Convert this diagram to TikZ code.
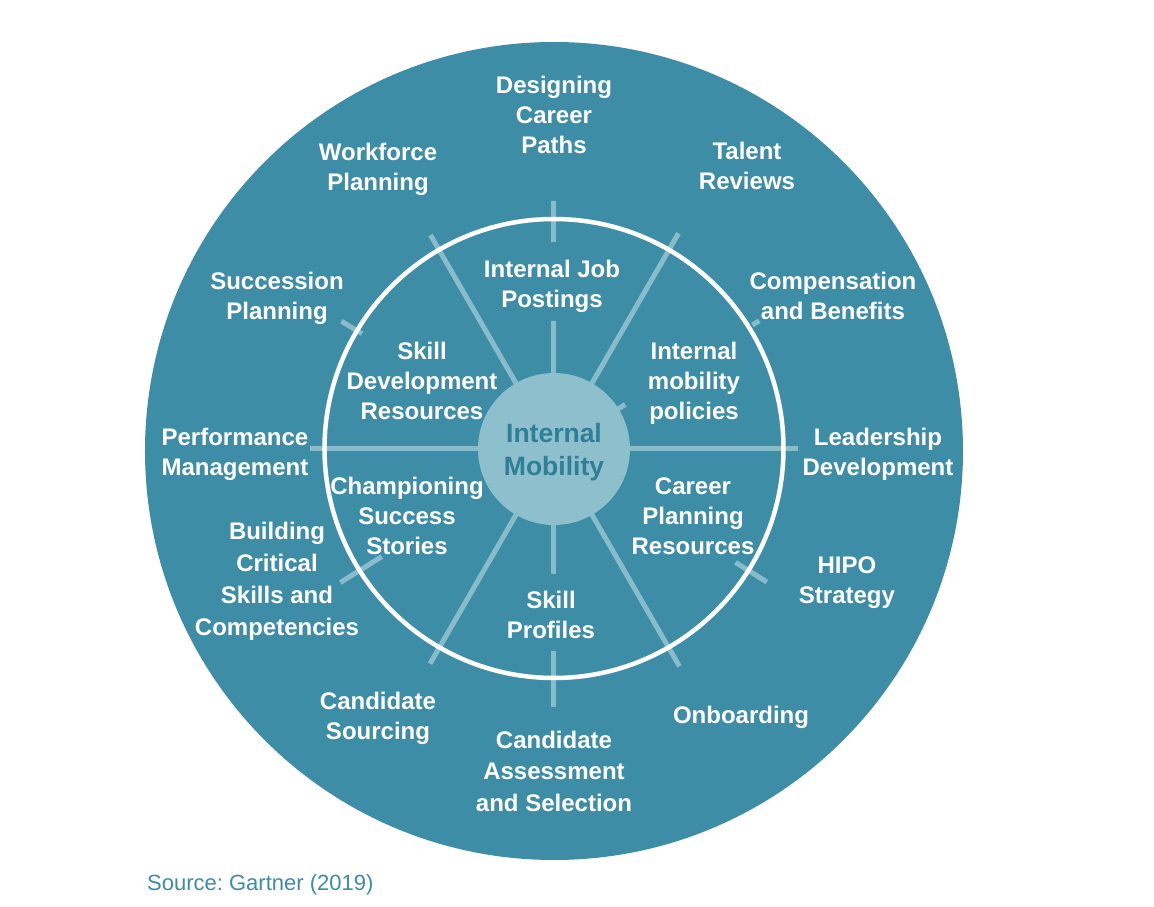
\documentclass[tikz,border=0pt]{standalone}
\usepackage{fontspec}
\setmainfont{Liberation Sans}
\usetikzlibrary{positioning}
\definecolor{wheelteal}{HTML}{3E8DA6}
\definecolor{spokeblue}{HTML}{88BCCB}
\definecolor{hubblue}{HTML}{8DBFCD}
\definecolor{hubtext}{HTML}{2F7F98}
\definecolor{sourceteal}{HTML}{3D8CA6}
\frenchspacing

\begin{document}
\begin{tikzpicture}[
  x=1pt, y=1pt,
  lbl/.style={text=white, font=\fontsize{24}{30}\selectfont\bfseries, align=center, inner sep=0pt},
  spoke/.style={draw=spokeblue, line width=5pt},
  hub/.style={circle, fill=hubblue, minimum size=152pt, inner sep=0pt},
  hubtxt/.style={text=hubtext, align=center, inner sep=0pt, font=\fontsize{26.5}{33}\selectfont\bfseries},
  src/.style={text=sourceteal, font=\fontsize{22}{26}\selectfont, anchor=west, inner sep=0pt}
]
\useasboundingbox (-554,-457) rectangle (600,450);

% Outer disc
\fill[wheelteal] (0,-1) circle (409);

% Spokes
\begin{scope}[shift={(0,1)}]
  \foreach \a/\r in {0/244, 60/249, 120/247, 180/244, 240/248, 300/251}
    \draw[spoke] (\a:70) -- (\a:\r);
  \draw[spoke] (90:70) -- (90:128);
  \draw[spoke] (90:207) -- (90:248);
  \draw[spoke] (270:70) -- (270:125);
  \draw[spoke] (270:202) -- (270:258);
  % short ticks
  \draw[spoke] (32:70) -- (32:84);
  \draw[spoke] (32:234) -- (32:242);
  \draw[spoke] (149:224) -- (149:248);
  \draw[spoke] (212:203) -- (212:252);
  \draw[spoke] (328:214) -- (328:251);
\end{scope}

% Inner ring and hub
\draw[white, line width=4.5pt] (0,1.5) circle (229.5);
\node[hub] (mobility) at (0,1) {};
\node[hubtxt] (mobilitytxt) at ([yshift=-3pt]mobility.center) {Internal\\Mobility};

% Inner ring labels
\node[lbl] (jobpost) at (-2,164) {Internal Job\\Postings};
\node[lbl] (skilldev) at (-132,69) {Skill\\Development\\Resources};
\node[lbl] (policies) at (140,66.5) {Internal\\mobility\\policies};
\node[lbl] (champion) at (-147,-66) {Championing\\Success\\Stories};
\node[lbl] (careerplan) at (139,-66) {Career\\Planning\\Resources};
\node[lbl] (profiles) at (-3,-165) {Skill\\Profiles};

% Outer ring labels
\node[lbl] (designing) at (0,335) {Designing\\Career\\Paths};
\node[lbl] (workforce) at (-176,281) {Workforce\\Planning};
\node[lbl] (talent) at (193,284.5) {Talent\\Reviews};
\node[lbl] (succession) at (-277,151.5) {Succession\\Planning};
\node[lbl] (compensation) at (279,154) {Compensation\\and Benefits};
\node[lbl] (performance) at (-319,-4.5) {Performance\\Management};
\node[lbl] (leadership) at (324,-4.5) {Leadership\\Development};
\node[lbl, font=\fontsize{24}{32}\selectfont\bfseries] (building) at (-277,-131) {Building\\Critical\\Skills and\\Competencies};
\node[lbl] (hipo) at (293,-133) {HIPO\\Strategy};
\node[lbl] (sourcing) at (-176,-268.5) {Candidate\\Sourcing};
\node[lbl, font=\fontsize{24}{31.5}\selectfont\bfseries] (assessment) at (0,-321) {Candidate\\Assessment\\and Selection};
\node[lbl] (onboarding) at (187,-267) {Onboarding};

% Source
\node[src] (source) at (-407,-435) {Source: Gartner (2019)};

\end{tikzpicture}
\end{document}
